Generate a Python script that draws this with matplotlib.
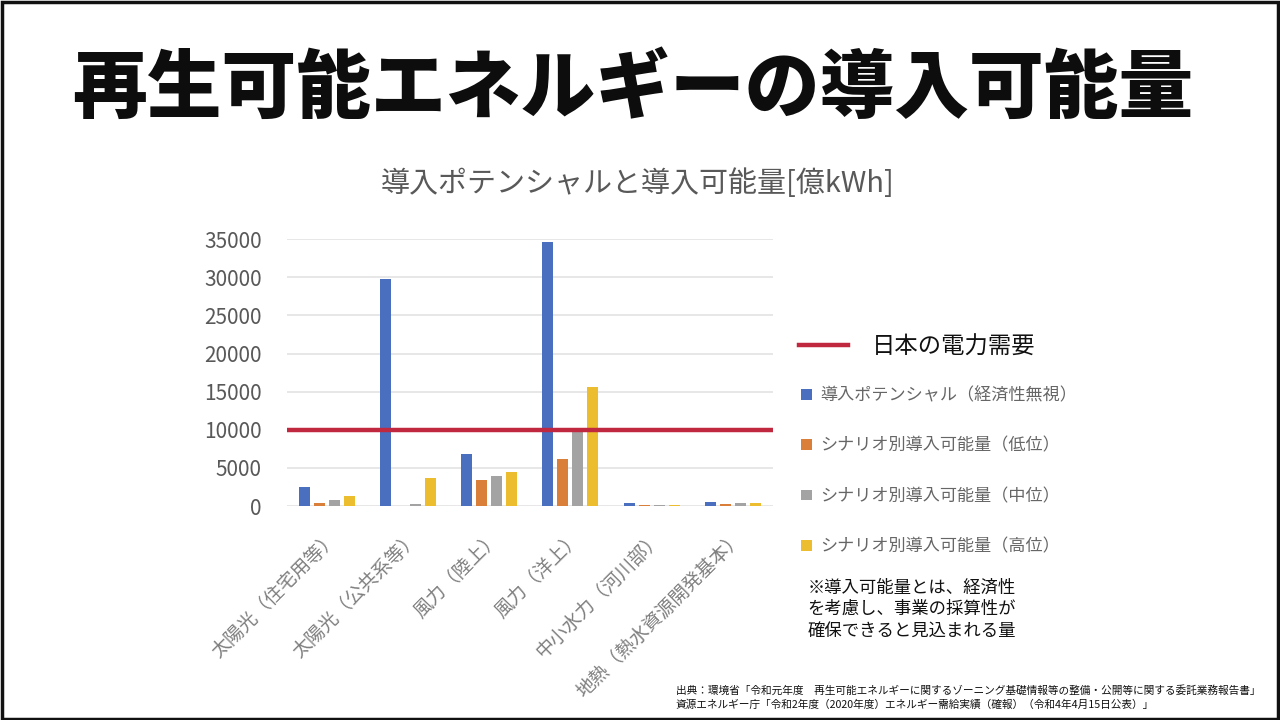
import matplotlib
matplotlib.use("Agg")
import matplotlib.pyplot as plt
import numpy as np
from matplotlib.patches import Rectangle
from matplotlib.lines import Line2D
from matplotlib.patches import Patch

plt.rcParams['font.family'] = ['Noto Sans CJK JP', 'DejaVu Sans']

# data (億kWh)
categories = ['太陽光（住宅用等）', '太陽光（公共系等）', '風力（陸上）',
              '風力（洋上）', '中小水力（河川部）', '地熱（熱水資源開発基本）']
series_names = ['導入ポテンシャル（経済性無視）', 'シナリオ別導入可能量（低位）',
                'シナリオ別導入可能量（中位）', 'シナリオ別導入可能量（高位）']
potential = [2520, 29700, 6800, 34550, 430, 520]
low = [430, 0, 3490, 6140, 110, 260]
mid = [870, 260, 4010, 9710, 150, 350]
high = [1300, 3660, 4480, 15550, 170, 390]
demand = 10000
yticks = [0, 5000, 10000, 15000, 20000, 25000, 30000, 35000]

colors = ['#4a6fbf', '#d97f3a', '#a3a3a3', '#ecbd2e']

fig = plt.figure(figsize=(12.8, 7.2), dpi=100)
fig.patch.set_facecolor('white')

# slide border
fig.add_artist(Rectangle((0.0015, 0.002), 0.997, 0.995, transform=fig.transFigure,
                         fill=False, edgecolor='#111111', linewidth=2.5))

fig.text(0.494, 0.875, '再生可能エネルギーの導入可能量', ha='center', va='center',
         fontsize=53.8, fontweight='black', color='#0d0d0d')
fig.text(0.498, 0.745, '導入ポテンシャルと導入可能量[億kWh]', ha='center', va='center',
         fontsize=20.9, color='#595959')

ax = fig.add_axes([0.224, 0.297, 0.380, 0.371])
x = np.arange(len(categories))
step = 0.185
width = 0.136
all_series = [potential, low, mid, high]
for i, vals in enumerate(all_series):
    ax.bar(x + (i - 1.5) * step, vals, width=width, color=colors[i], zorder=3)

ax.axhline(demand, color='#c0283f', linewidth=3.2, zorder=4)

ax.set_xlim(-0.5, len(categories) - 0.5)
ax.set_ylim(0, 35000)
ax.set_yticks(yticks)
ax.set_yticklabels([str(v) for v in yticks], fontsize=15, color='#595959')
ax.grid(axis='y', color='#e3e3e3', linewidth=1.2, zorder=0)
for s in ax.spines.values():
    s.set_visible(False)
ax.tick_params(axis='both', length=0)
ax.tick_params(axis='y', pad=18)
ax.set_xticks(x)
ax.set_xticklabels(categories, rotation=45, ha='right', rotation_mode='anchor',
                   fontsize=13.6, color='#7f7f7f')
ax.tick_params(axis='x', pad=15)

# legend
handles = [Line2D([0], [0], color='#c0283f', linewidth=3.2)]
leg1 = fig.legend(handles, ['日本の電力需要'], loc='center left',
                  bbox_to_anchor=(0.608, 0.518), frameon=False, fontsize=16.8,
                  handlelength=2.1, handletextpad=1.0)
for t in leg1.get_texts():
    t.set_color('#111111')

handles2 = [Patch(facecolor=c) for c in colors]
leg2 = fig.legend(handles2, series_names, loc='upper left',
                  bbox_to_anchor=(0.614, 0.485), frameon=False, fontsize=12.3,
                  handlelength=0.6, handleheight=0.6, handletextpad=0.5,
                  labelspacing=1.9)
for t in leg2.get_texts():
    t.set_color('#666666')

fig.text(0.631, 0.154, '※導入可能量とは、経済性\nを考慮し、事業の採算性が\n確保できると見込まれる量',
         ha='left', va='center', fontsize=12.5, color='#111111', linespacing=1.25)

fig.text(0.528, 0.031,
         '出典：環境省「令和元年度　再生可能エネルギーに関するゾーニング基礎情報等の整備・公開等に関する委託業務報告書」\n'
         '資源エネルギー庁「令和2年度（2020年度）エネルギー需給実績（確報）（令和4年4月15日公表）」',
         ha='left', va='center', fontsize=7.7, color='#111111', linespacing=1.45)

fig.savefig('out.png', dpi=100, facecolor='white')
